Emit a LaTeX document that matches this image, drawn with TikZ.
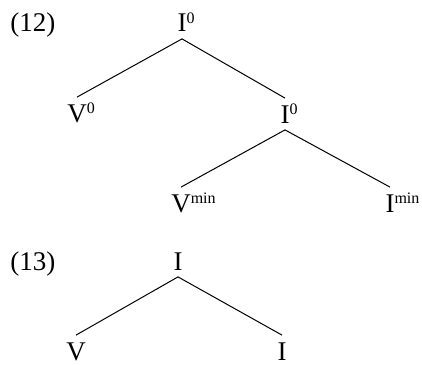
\documentclass[tikz,border=0pt]{standalone}
\usepackage{fontspec}
\setmainfont{Liberation Serif}
\newcommand{\catsup}[1]{\rlap{\raisebox{4.4pt}{\fontsize{8}{9}\selectfont #1}}}

\begin{document}
\begin{tikzpicture}[x=0.5pt, y=-0.5pt, font=\fontsize{13.5}{16}\selectfont]
    % 定义样式
    \tikzstyle{cat}=[anchor=base, inner xsep=0pt, inner ysep=3.25pt, text height=9pt, text depth=0pt]
    \tikzstyle{branch}=[line width=0.5pt]
    \tikzstyle{exnum}=[anchor=base west, inner sep=0pt]

    \useasboundingbox (0,0) rectangle (422,364);

    % 例 (12)
    \node[exnum] (ex12) at (10,32) {(12)};
    \node[cat] (itop) at (182,32) {I\catsup{0}};
    \node[cat] (vzero) at (77,122) {V\catsup{0}};
    \node[cat] (imid) at (285,123) {I\catsup{0}};
    \node[cat] (vmin) at (181,212) {V\catsup{min}};
    \node[cat] (imin) at (390,212) {I\catsup{min}};

    \draw[branch] (itop.south) -- (vzero.north);
    \draw[branch] (itop.south) -- (imid.north);
    \draw[branch] (imid.south) -- (vmin.north);
    \draw[branch] (imid.south) -- (imin.north);

    % 例 (13)
    \node[exnum] (ex13) at (10,270) {(13)};
    \node[cat] (iroot) at (178,270) {I};
    \node[cat] (vleaf) at (76,360) {V};
    \node[cat] (ileaf) at (282,360) {I};

    \draw[branch] (iroot.south) -- (vleaf.north);
    \draw[branch] (iroot.south) -- (ileaf.north);
\end{tikzpicture}
\end{document}
